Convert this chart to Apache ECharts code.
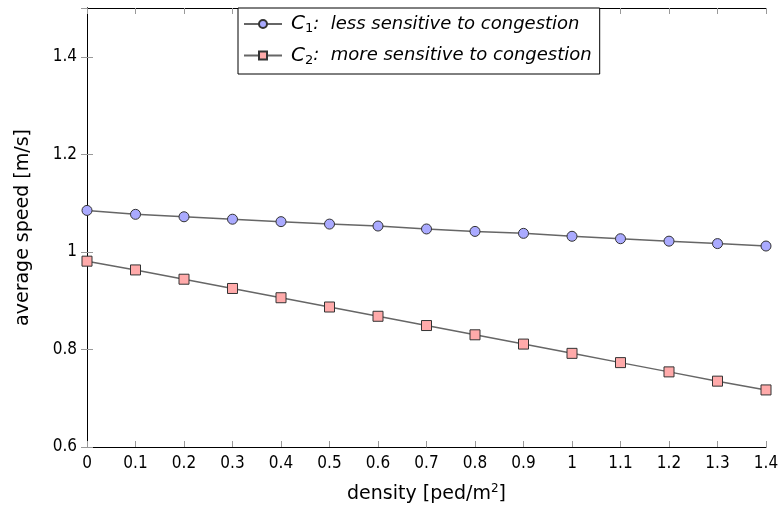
<!DOCTYPE html>
<html>
<head>
<meta charset="utf-8">
<script src="https://cdn.jsdelivr.net/npm/echarts@6/dist/echarts.min.js"></script>
<style>
  html, body { margin: 0; padding: 0; background: #fff; }
  #main { width: 783px; height: 515px; }
</style>
</head>
<body>
<div id="main"></div>
<script>
// 数据
const density = [0, 0.1, 0.2, 0.3, 0.4, 0.5, 0.6, 0.7, 0.8, 0.9, 1.0, 1.1, 1.2, 1.3, 1.4];
const speedC1 = [1.085, 1.077, 1.072, 1.067, 1.062, 1.057, 1.053, 1.047, 1.042, 1.038, 1.032, 1.027, 1.022, 1.017, 1.012];
const speedC2 = [0.981, 0.963, 0.944, 0.925, 0.906, 0.887, 0.868, 0.849, 0.830, 0.811, 0.792, 0.773, 0.754, 0.735, 0.717];
const seriesNames = ['C1', 'C2'];
const legendTexts = {
    C1: '{c|C}{s|1}{t|:  less sensitive to congestion}',
    C2: '{c|C}{s|2}{t|:  more sensitive to congestion}'
};

const font = '"DejaVu Sans Condensed", "DejaVu Sans", sans-serif';
const font2 = '"DejaVu Sans", sans-serif';
const fmt = v => String(+v.toFixed(1));

var myChart = echarts.init(document.getElementById('main'));

const tickStyle = { show: true, inside: true, length: 6, lineStyle: { color: '#999', width: 1 } };

const option = {
    animation: false,
    backgroundColor: '#fff',
    textStyle: { fontFamily: font },
    grid: { left: 87, right: 17, top: 8, bottom: 68, containLabel: false },
    legend: {
        left: 238,
        top: 8,
        orient: 'vertical',
        itemGap: 10,
        itemWidth: 38,
        itemHeight: 10,
        padding: [6, 8, 7, 5],
        borderColor: '#000',
        borderWidth: 1,
        borderRadius: 0,
        backgroundColor: '#fff',
        formatter: name => legendTexts[name],
        textStyle: {
            fontFamily: font2,
            padding: [0, 0, 0, 4],
            rich: {
                c: { fontSize: 20, fontStyle: 'italic', color: '#000', fontFamily: font2 },
                s: { fontSize: 13, color: '#000', fontFamily: font2, padding: [10, 0, 0, 0] },
                t: { fontSize: 18, fontStyle: 'italic', color: '#000', fontFamily: font2 }
            }
        },
        data: seriesNames
    },
    xAxis: [{
        type: 'value',
        min: 0,
        max: 1.4,
        interval: 0.1,
        name: '{a|density [ped/m}{b|2}{a|]}',
        nameLocation: 'middle',
        nameGap: 36,
        nameTextStyle: {
            rich: {
                a: { fontSize: 19, color: '#000', fontFamily: font2 },
                b: { fontSize: 12, color: '#000', fontFamily: font2, padding: [0, 0, 10, 0] }
            }
        },
        axisLine: { show: true, lineStyle: { color: '#000', width: 1 } },
        axisTick: tickStyle,
        axisLabel: { fontSize: 17, color: '#000', margin: 8, formatter: fmt },
        splitLine: { show: false }
    }, {
        type: 'value',
        position: 'top',
        min: 0,
        max: 1.4,
        interval: 0.1,
        axisLine: { show: true, lineStyle: { color: '#000', width: 1 } },
        axisTick: tickStyle,
        axisLabel: { show: false },
        splitLine: { show: false }
    }],
    yAxis: [{
        type: 'value',
        min: 0.6,
        max: 1.5,
        interval: 0.2,
        name: 'average speed [m/s]',
        nameLocation: 'middle',
        nameGap: 54,
        nameTextStyle: { fontSize: 19, color: '#000', fontFamily: font2 },
        axisLine: { show: true, lineStyle: { color: '#000', width: 1 } },
        axisTick: tickStyle,
        axisLabel: { fontSize: 17, color: '#000', margin: 10, showMaxLabel: false, formatter: fmt },
        splitLine: { show: false }
    }, {
        type: 'value',
        position: 'right',
        min: 0.6,
        max: 1.5,
        interval: 0.2,
        axisLine: { show: true, lineStyle: { color: '#000', width: 1 } },
        axisTick: tickStyle,
        axisLabel: { show: false },
        splitLine: { show: false }
    }],
    series: [{
        name: 'C1',
        type: 'line',
        data: density.map((d, i) => [d, speedC1[i]]),
        symbol: 'circle',
        symbolSize: 10,
        lineStyle: { color: '#666', width: 1.5 },
        itemStyle: { color: '#aaaaff', borderColor: '#333', borderWidth: 1 },
        z: 3
    }, {
        name: 'C2',
        type: 'line',
        data: density.map((d, i) => [d, speedC2[i]]),
        symbol: 'rect',
        symbolSize: 10,
        lineStyle: { color: '#666', width: 1.5 },
        itemStyle: { color: '#ffaaaa', borderColor: '#333', borderWidth: 1 },
        z: 3
    }]
};

myChart.setOption(option);
window.addEventListener('resize', myChart.resize);
</script>
</body>
</html>
